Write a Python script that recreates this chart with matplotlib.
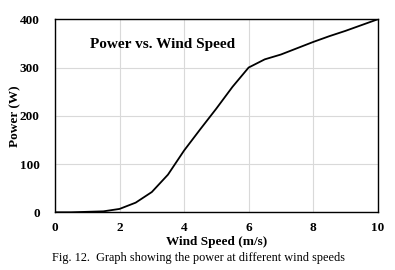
import numpy as np
import matplotlib.pyplot as plt

wind = [0, 0.5, 1, 1.5, 2, 2.5, 3, 3.5, 4, 4.5, 5, 5.5, 6, 6.5, 7, 7.5, 8, 8.5, 9, 9.5, 10]
power = [0, 0, 1, 2, 7, 20, 42, 78, 128, 172, 215, 260, 300, 317, 327, 340, 353, 365, 376, 388, 400]

plt.rcParams['font.family'] = ['Liberation Serif', 'DejaVu Serif']

fig = plt.figure(figsize=(3.95, 2.7), dpi=100)
ax = fig.add_axes([55/395, 1 - 212.3/270, (377.7-55)/395, (212.3-19.3)/270])

ax.plot(wind, power, color='black', lw=1.3)
ax.set_xlim(0, 10)
ax.set_ylim(0, 400)
ax.set_xticks([0, 2, 4, 6, 8, 10])
ax.set_yticks([0, 100, 200, 300, 400])
ax.grid(True, color='#d9d9d9', lw=0.8)
ax.set_axisbelow(True)
ax.tick_params(length=0, labelsize=9.5)
ax.tick_params(axis='y', pad=11)
ax.tick_params(axis='x', pad=7)
for lbl in ax.get_xticklabels() + ax.get_yticklabels():
    lbl.set_fontweight('bold')
for s in ax.spines.values():
    s.set_color('black')
    s.set_linewidth(1.0)

ax.set_xlabel('Wind Speed (m/s)', fontsize=9.5, fontweight='bold')
ax.set_ylabel('Power (W)', fontsize=9.5, fontweight='bold')
ax.xaxis.set_label_coords(0.5, -0.125)
ax.yaxis.set_label_coords(-0.105, 0.5)

ax.text(0.108, 0.87, 'Power vs. Wind Speed', transform=ax.transAxes,
        fontsize=11, fontweight='bold', va='center')

fig.text(52/395, 1 - 258/270, 'Fig. 12.  Graph showing the power at different wind speeds',
         fontsize=8.8, va='center')

fig.savefig('out.png', dpi=100)
